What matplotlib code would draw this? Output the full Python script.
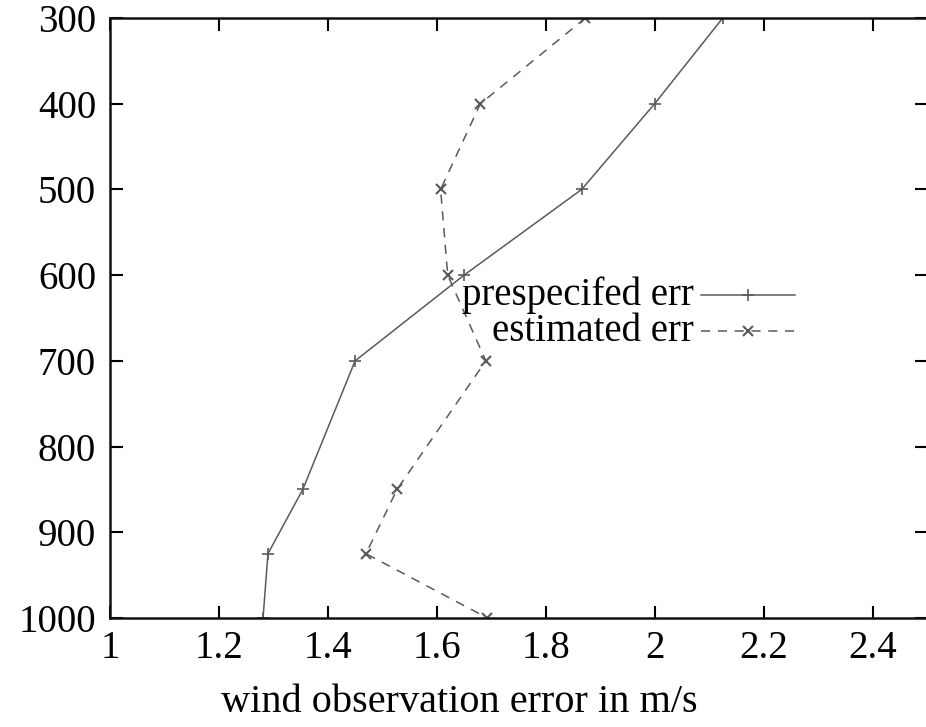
import matplotlib
matplotlib.use("Agg")
import matplotlib.pyplot as plt

# Data
levels = [300, 400, 500, 600, 700, 850, 925, 1000]
prespecified_err = [2.125, 2.00, 1.866, 1.65, 1.45, 1.354, 1.29, 1.281]
estimated_err = [1.873, 1.68, 1.607, 1.62, 1.69, 1.527, 1.47, 1.693]
xticks = [1, 1.2, 1.4, 1.6, 1.8, 2, 2.2, 2.4]
yticks = [300, 400, 500, 600, 700, 800, 900, 1000]
labels = ["prespecifed err", "estimated err"]
xlabel = "wind observation error in m/s"

plt.rcParams['font.family'] = ['Liberation Serif', 'DejaVu Serif']

W, H = 926, 727
fig = plt.figure(figsize=(W / 100, H / 100), dpi=100)
left, right, top, bottom = 110, 927, 18, 618
ax = fig.add_axes([left / W, 1 - bottom / H, (right - left) / W, (bottom - top) / H])

line_col = '#5a5a5a'
ax.plot(prespecified_err, levels, color=line_col, lw=1.1, ls='-',
        marker='+', ms=8, mew=1.2)
ax.plot(estimated_err, levels, color=line_col, lw=1.1, ls=(0, (6, 5)),
        marker='x', ms=7, mew=1.5)

ax.set_xlim(1, 2.5)
ax.set_ylim(1000, 300)
ax.set_xticks(xticks)
ax.set_xticklabels([f"{v:g}" for v in xticks])
ax.set_yticks(yticks)
ax.tick_params(direction='in', length=9, width=1.5, top=True, right=True,
               labelsize=28, colors='black')
ax.tick_params(axis='x', pad=9)
ax.tick_params(axis='y', pad=10)
for s in ax.spines.values():
    s.set_linewidth(1.8)
    s.set_color('#111111')
ax.set_xlabel(xlabel, fontsize=29)
ax.xaxis.set_label_coords((459 - left) / (right - left), -(702 - bottom) / (bottom - top))
ax.xaxis.label.set_va('center')

# Legend (gnuplot style: right-aligned text, sample to the right)
tx = 0.714
lx0, lx1 = 0.723, 0.838
rows = [0.538, 0.478]
styles = [dict(ls='-', marker='+', ms=8, mew=1.2),
          dict(ls=(0, (6, 5)), marker='x', ms=7, mew=1.5)]
for lab, yy, st in zip(labels, rows, styles):
    ax.text(tx, yy, lab, transform=ax.transAxes, ha='right', va='center',
            fontsize=28)
    ax.plot([lx0, (lx0 + lx1) / 2, lx1], [yy, yy, yy], transform=ax.transAxes,
            color=line_col, lw=1.1, markevery=[1], clip_on=False, **st)

fig.savefig("out.png", dpi=100)
